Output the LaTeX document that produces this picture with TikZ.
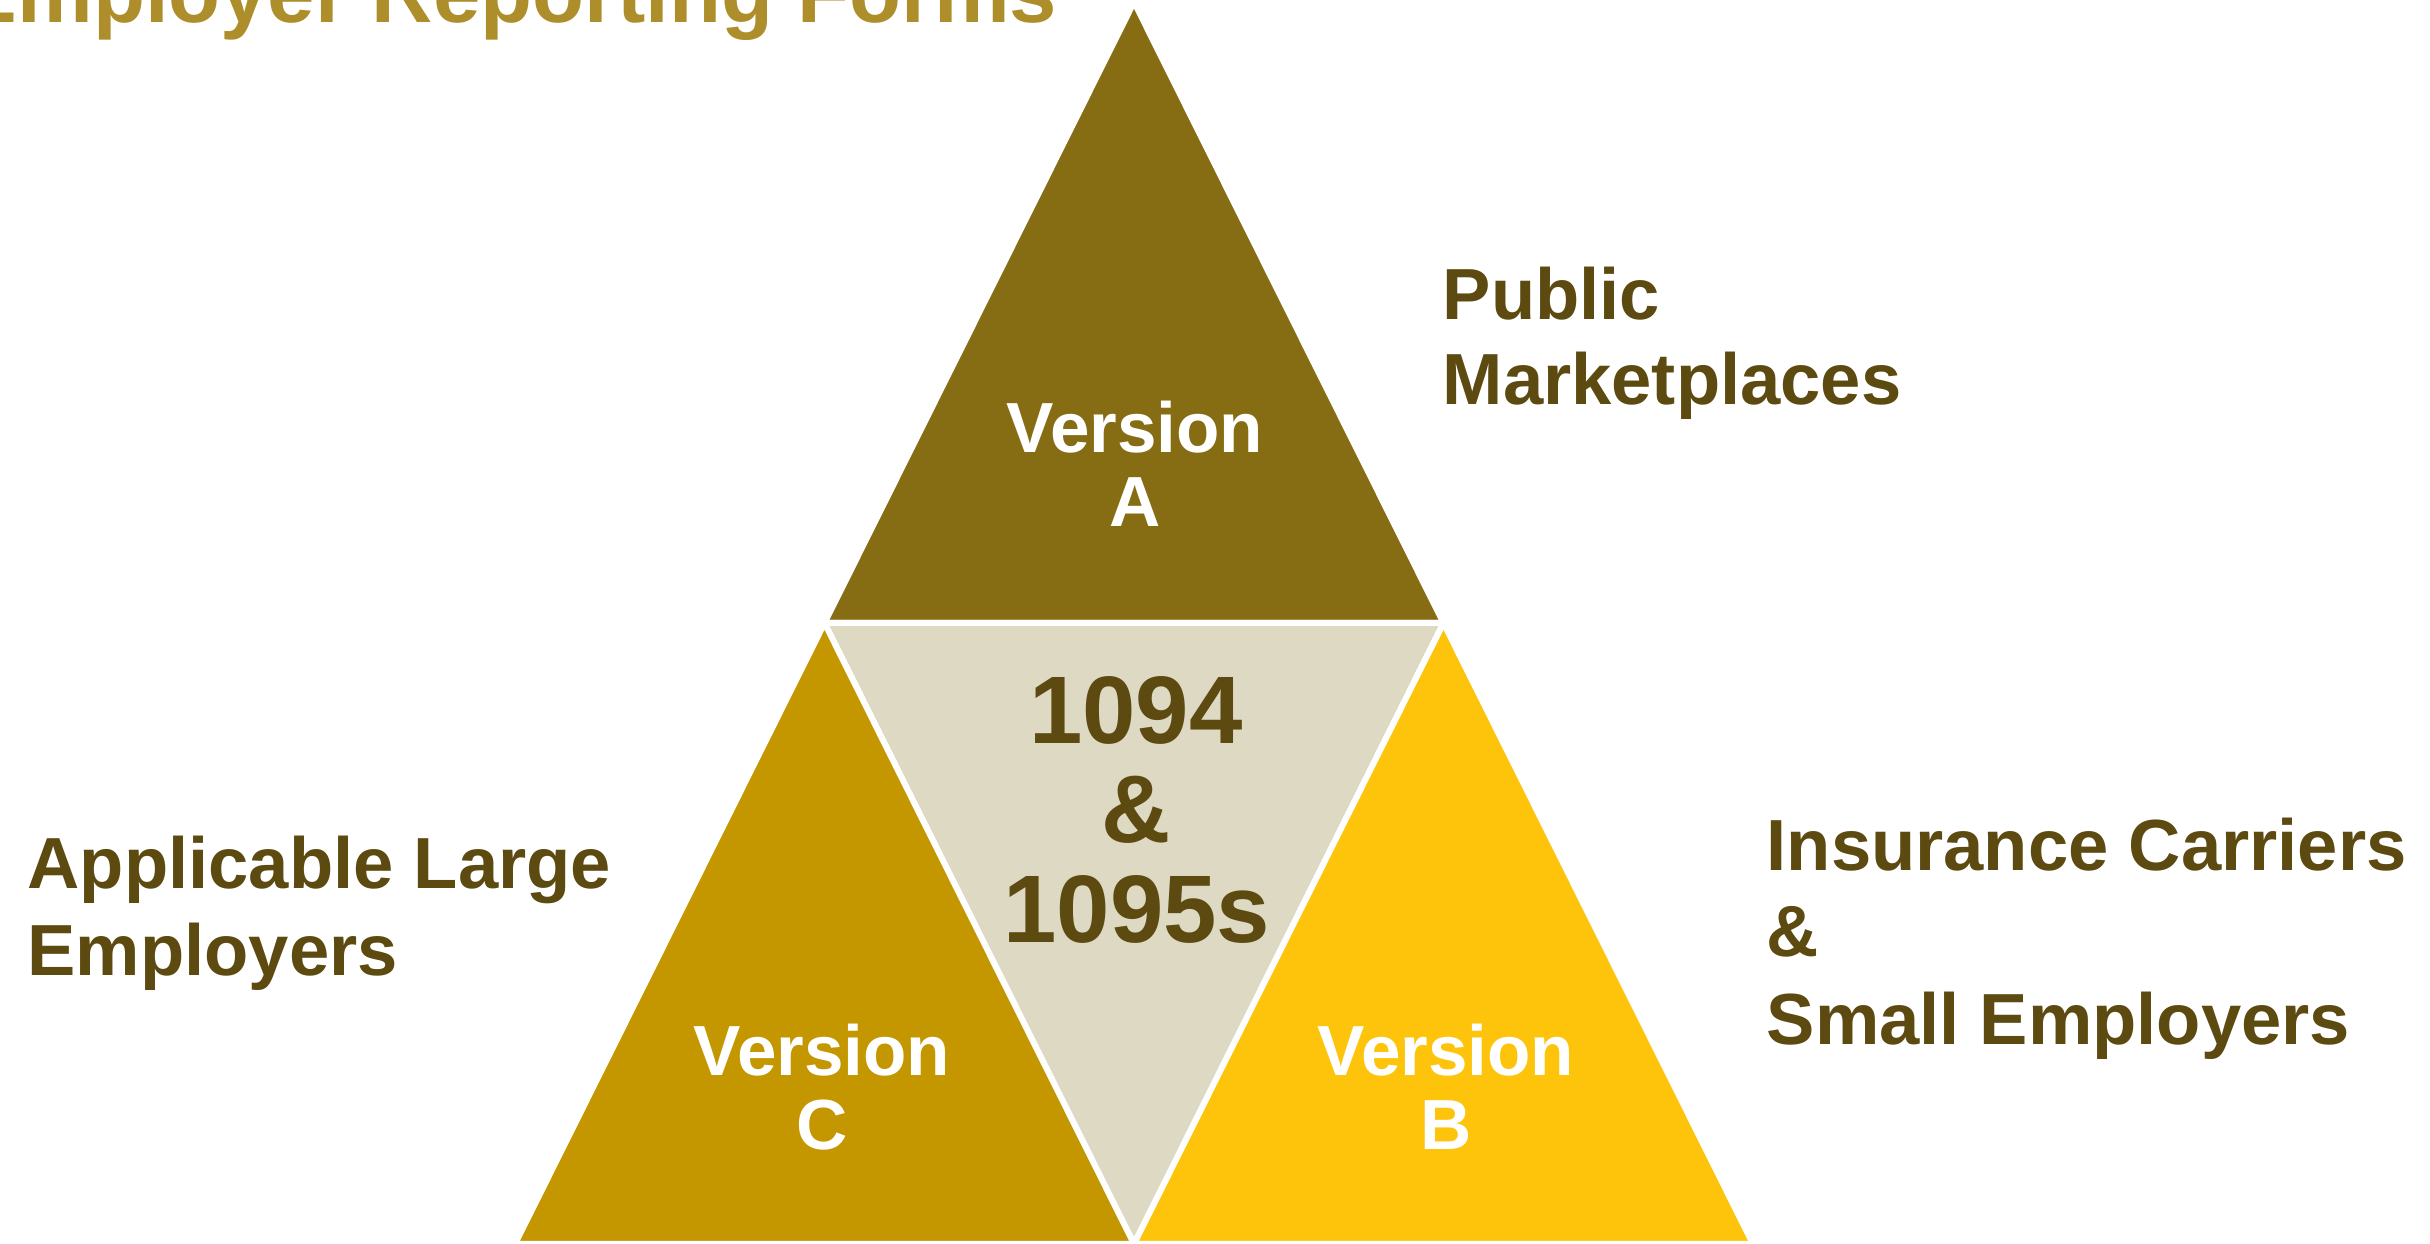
\documentclass[tikz,border=0pt]{standalone}
\usepackage{fontspec}
\setmainfont{Liberation Sans}
\definecolor{topolive}{HTML}{866D14}
\definecolor{midcream}{HTML}{DDD9C3}
\definecolor{leftgold}{HTML}{C49700}
\definecolor{rightyellow}{HTML}{FEC40C}
\definecolor{labelbrown}{HTML}{5C4A10}
\definecolor{titlegold}{HTML}{AD8E2B}
\tikzset{
  piece/.style={draw=white, line width=0.06cm, line join=miter},
  sidelabel/.style={anchor=base west, inner sep=0pt, text=labelbrown,
    font=\fontsize{20.6}{25}\selectfont\bfseries},
  versionlabel/.style={anchor=base, inner sep=0pt, text=white,
    font=\fontsize{20.2}{21}\selectfont\bfseries},
  centerlabel/.style={anchor=base, inner sep=0pt, text=labelbrown,
    font=\fontsize{27.3}{28}\selectfont\bfseries},
  titlelabel/.style={anchor=base west, inner sep=0pt, text=titlegold,
    font=\fontsize{24.2}{26}\selectfont\bfseries}
}
\begin{document}
\begin{tikzpicture}
\useasboundingbox (0,0) rectangle (24.3,12.44);
\fill[white] (0,0) rectangle (24.3,12.44);

% corner points of the large triangle and its edge midpoints
\coordinate (apex) at (11.34,12.42);
\coordinate (midL) at (8.245,6.21);
\coordinate (midR) at (14.435,6.21);
\coordinate (baseL) at (5.15,0);
\coordinate (baseM) at (11.34,0);
\coordinate (baseR) at (17.53,0);

% the four sub-triangles
\filldraw[piece, fill=topolive] (apex) -- (midR) -- (midL) -- cycle;
\filldraw[piece, fill=midcream] (midL) -- (midR) -- (baseM) -- cycle;
\filldraw[piece, fill=leftgold] (midL) -- (baseM) -- (baseL) -- cycle;
\filldraw[piece, fill=rightyellow] (midR) -- (baseR) -- (baseM) -- cycle;

% title
\node[titlelabel] (title) at (-0.40,12.21) {Employer Reporting Forms};

% version labels
\node[versionlabel] (verA1) at (11.35,7.91) {Version};
\node[versionlabel] (verA2) at (11.35,7.17) {A};
\node[versionlabel] (verC1) at (8.22,1.68) {Version};
\node[versionlabel] (verC2) at (8.22,0.94) {C};
\node[versionlabel] (verB1) at (14.46,1.68) {Version};
\node[versionlabel] (verB2) at (14.46,0.94) {B};

% centre label
\node[centerlabel] (forms1) at (11.36,5.00) {1094};
\node[centerlabel] (forms2) at (11.36,4.01) {\&};
\node[centerlabel] (forms3) at (11.37,3.01) {1095s};

% side labels
\node[sidelabel] (pub1) at (14.42,9.24) {Public};
\node[sidelabel] (pub2) at (14.42,8.39) {Marketplaces};
\node[sidelabel] (ale1) at (0.27,3.55) {Applicable Large};
\node[sidelabel] (ale2) at (0.27,2.68) {Employers};
\node[sidelabel] (ins1) at (17.66,3.73) {Insurance Carriers};
\node[sidelabel] (ins2) at (17.66,2.87) {\&};
\node[sidelabel] (ins3) at (17.66,1.99) {Small Employers};
\end{tikzpicture}
\end{document}
